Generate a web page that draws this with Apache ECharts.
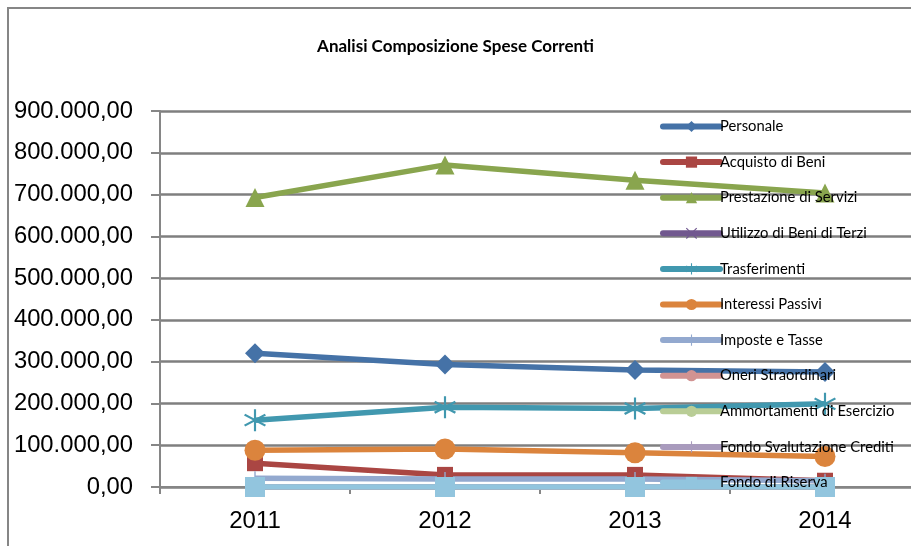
<!DOCTYPE html>
<html><head><meta charset="utf-8">
<script src="https://cdn.jsdelivr.net/npm/echarts@6/dist/echarts.min.js"></script>
<style>html,body{margin:0;padding:0;background:#fff;overflow:hidden}#c{width:911px;height:546px}</style>
</head><body><div id="c"></div>
<script>
const years = ['2011','2012','2013','2014'];
const personale = [320000, 293000, 280000, 275000];
const acquistoBeni = [57000, 29000, 29000, 15000];
const prestazioneServizi = [693000, 771000, 734000, 704000];
const utilizzoBeniTerzi = [0, 0, 0, 0];
const trasferimenti = [160000, 191000, 188000, 199000];
const interessiPassivi = [88000, 91000, 82000, 73000];
const imposteTasse = [21000, 19000, 19000, 15000];
const oneriStraordinari = [0, 0, 0, 0];
const ammortamenti = [0, 0, 0, 0];
const fondoSvalutazione = [0, 0, 0, 0];
const fondoRiserva = [0, 0, 0, 0];

const asterisk = 'path://M9.1,0L10.9,0L10.9,20L9.1,20Z M1.84,4.13L19.16,14.13L18.16,15.87L0.84,5.87Z M0.84,14.13L18.16,4.13L19.16,5.87L1.84,15.87Z';
const xmark = 'path://M0,1.5L1.5,0L10,8.5L18.5,0L20,1.5L11.5,10L20,18.5L18.5,20L10,11.5L1.5,20L0,18.5L8.5,10Z';
const plus = 'path://M9,0L11,0L11,20L9,20Z M0,9L20,9L20,11L0,11Z';

const defs = [
  ['Personale', personale, '#4572A7', 'diamond', 20],
  ['Acquisto di Beni', acquistoBeni, '#AA4643', 'rect', 16],
  ['Prestazione di Servizi', prestazioneServizi, '#89A54E', 'triangle', 19],
  ['Utilizzo di Beni di Terzi', utilizzoBeniTerzi, '#71588F', xmark, 14],
  ['Trasferimenti', trasferimenti, '#4198AF', asterisk, 22],
  ['Interessi Passivi', interessiPassivi, '#DB843D', 'circle', 21],
  ['Imposte e Tasse', imposteTasse, '#93A9CF', plus, 14],
  ['Oneri Straordinari', oneriStraordinari, '#D19392', 'none', 0],
  ['Ammortamenti di Esercizio', ammortamenti, '#B9CD96', 'none', 0],
  ['Fondo Svalutazione Crediti', fondoSvalutazione, '#A99BBD', plus, 14],
  ['Fondo di Riserva', fondoRiserva, '#92C5DE', 'rect', 20]
];

function fmt(v){
  const s = Math.round(v).toString().replace(/\B(?=(\d{3})+(?!\d))/g, '.');
  return s + ',00';
}

const chart = echarts.init(document.getElementById('c'));
chart.setOption({
  animation: false,
  backgroundColor: '#fff',
  graphic: [{
    type: 'rect', z: 0, silent: true,
    shape: {x: 8, y: 8, width: 920, height: 560},
    style: {fill: 'none', stroke: '#868686', lineWidth: 2}
  }],
  title: {
    text: 'Analisi Composizione Spese Correnti',
    left: 'center', top: 33,
    textStyle: {fontFamily: 'Lato', fontSize: 17, fontWeight: 'bold', color: '#000'}
  },
  legend: {
    orient: 'vertical', left: 655, top: 114, z: 10,
    itemWidth: 57, itemHeight: 14, itemGap: 20.6,
    lineStyle: {width: 6, cap: 'round'},
    textStyle: {fontFamily: 'Lato', fontSize: 14.8, color: '#000', padding: [0,0,0,-5]},
    data: defs.map(d => d[0])
  },
  grid: {left: 160, top: 111, width: 760, height: 376, containLabel: false, outerBoundsMode: 'none'},
  xAxis: {
    type: 'category', data: years, boundaryGap: true,
    axisLine: {lineStyle: {color: '#868686', width: 2}},
    axisTick: {show: true, length: 7, lineStyle: {color: '#868686', width: 2}},
    axisLabel: {fontFamily: 'Liberation Sans', fontSize: 24, color: '#000', margin: 22}
  },
  yAxis: {
    type: 'value', min: 0, max: 900000, interval: 100000,
    axisLine: {show: true, lineStyle: {color: '#868686', width: 2}},
    axisTick: {show: true, length: 9, lineStyle: {color: '#868686', width: 2}},
    splitLine: {lineStyle: {color: '#7f7f7f', width: 2.5}},
    axisLabel: {fontFamily: 'Liberation Sans', fontSize: 23.8, color: '#000', margin: 27, formatter: fmt}
  },
  series: defs.map(d => ({
    name: d[0], type: 'line', data: d[1], z: 3,
    symbol: d[3], symbolSize: d[4], showSymbol: d[3] !== 'none',
    lineStyle: {color: d[2], width: 5.5},
    itemStyle: {color: d[2]}
  }))
});
</script>
</body></html>
